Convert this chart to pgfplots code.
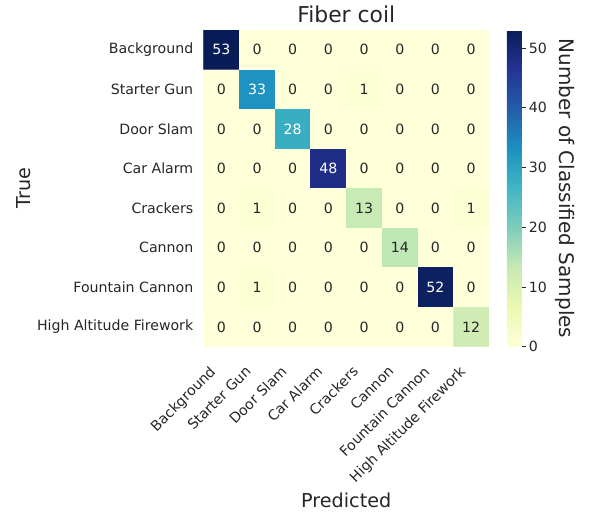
\documentclass[border=0pt]{standalone}
\usepackage{pgfplots}
\pgfplotsset{compat=1.18}
\usepackage{pgfplotstable}
\usepackage{fontspec}
\setmainfont{DejaVu Sans}
\usetikzlibrary{calc}

\definecolor{ink}{RGB}{38,38,38}

% confusion matrix: column x = predicted, row y = true class
\pgfplotstableread{
x y c
0 0 53
1 0 0
2 0 0
3 0 0
4 0 0
5 0 0
6 0 0
7 0 0
0 1 0
1 1 33
2 1 0
3 1 0
4 1 1
5 1 0
6 1 0
7 1 0
0 2 0
1 2 0
2 2 28
3 2 0
4 2 0
5 2 0
6 2 0
7 2 0
0 3 0
1 3 0
2 3 0
3 3 48
4 3 0
5 3 0
6 3 0
7 3 0
0 4 0
1 4 1
2 4 0
3 4 0
4 4 13
5 4 0
6 4 0
7 4 1
0 5 0
1 5 0
2 5 0
3 5 0
4 5 0
5 5 14
6 5 0
7 5 0
0 6 0
1 6 1
2 6 0
3 6 0
4 6 0
5 6 0
6 6 52
7 6 0
0 7 0
1 7 0
2 7 0
3 7 0
4 7 0
5 7 0
6 7 0
7 7 12
}\cm

\pgfplotsset{
  colormap={ylgnbu}{rgb255=(255,255,217) rgb255=(237,248,177) rgb255=(199,233,180)
    rgb255=(127,205,187) rgb255=(65,182,196) rgb255=(29,145,192) rgb255=(34,94,168)
    rgb255=(37,52,148) rgb255=(8,29,88)},
  /pgf/number format/assume math mode=true,
}

\newcommand{\ticksize}{\fontsize{10.6}{12.5}\selectfont}
\newcommand{\labsize}{\fontsize{14.4}{17}\selectfont}

\begin{document}
\begin{tikzpicture}
\begin{axis}[
  name=hm,
  scale only axis,
  width=214.1pt, height=237.5pt,
  xmin=-0.5, xmax=7.5, ymin=-0.5, ymax=7.5,
  y dir=reverse,
  axis line style={draw=none},
  major tick length=0pt,
  xtick={0,...,7}, ytick={0,...,7},
  xticklabels={Background,Starter Gun,Door Slam,Car Alarm,Crackers,Cannon,Fountain Cannon,High Altitude Firework},
  yticklabels={Background,Starter Gun,Door Slam,Car Alarm,Crackers,Cannon,Fountain Cannon,High Altitude Firework},
  xticklabel style={font=\ticksize, text=ink, inner sep=0pt, xshift=-9.5pt, yshift=-13.5pt, rotate=45, anchor=north east},
  yticklabel style={font=\ticksize, text=ink, inner sep=0pt, xshift=-7.5pt},
  colormap name=ylgnbu,
  point meta min=0, point meta max=53,
  title={Fiber coil},
  every axis title/.style={at={(rel axis cs:0.5,1)}, anchor=center, yshift=11.5pt, font=\fontsize{16.4}{19}\selectfont, text=ink},
  xlabel={Predicted},
  ylabel={True},
  every axis x label/.style={at={(rel axis cs:0.5,0)}, anchor=center, yshift=-115pt, font=\labsize, text=ink},
  every axis y label/.style={at={(rel axis cs:0,0.5)}, xshift=-135pt, anchor=center, rotate=90, font=\labsize, text=ink},
  colorbar,
  colorbar shift/.style={xshift=13.5pt},
  colorbar style={
    at={(parent axis.north east)}, anchor=north west,
    width=11.25pt,
    ytick={0,10,...,50},
    axis line style={draw=none},
    major tick length=3pt,
    tick align=outside,
    ytick pos=right,
    yticklabel pos=right,
    tick style={draw=ink, line width=0.6pt},
    yticklabel style={font=\ticksize, text=ink, inner sep=0pt, xshift=2pt},
    ylabel={Number of Classified Samples},
    every axis y label/.style={at={(rel axis cs:1,0.5)}, xshift=32pt, anchor=center, rotate=-90, font=\fontsize{15}{18}\selectfont, text=ink},
  },
]
\addplot[matrix plot*, mesh/cols=8, mesh/rows=8, point meta=explicit, draw=mapped color, line width=0.1pt]
  table[x=x, y=y, meta=c] {\cm};
% annotations on light cells
\addplot[only marks, mark=none, point meta=explicit,
  restrict expr to domain={\thisrow{c}}{-1:25},
  nodes near coords={\pgfmathprintnumber[fixed,precision=0]{\pgfplotspointmeta}},
  nodes near coords align=center,
  every node near coord/.style={anchor=center, font=\ticksize, text=ink}]
  table[x=x, y=y, meta=c] {\cm};
% annotations on dark cells
\addplot[only marks, mark=none, point meta=explicit,
  restrict expr to domain={\thisrow{c}}{25:60},
  nodes near coords={\pgfmathprintnumber[fixed,precision=0]{\pgfplotspointmeta}},
  nodes near coords align=center,
  every node near coord/.style={anchor=center, font=\ticksize, text=white}]
  table[x=x, y=y, meta=c] {\cm};
\end{axis}
\pgfresetboundingbox
\path[use as bounding box] ($(hm.south west)+(-152.6pt,-124.7pt)$) rectangle ($(hm.north east)+(77.25pt,22.5pt)$);
\end{tikzpicture}
\end{document}
